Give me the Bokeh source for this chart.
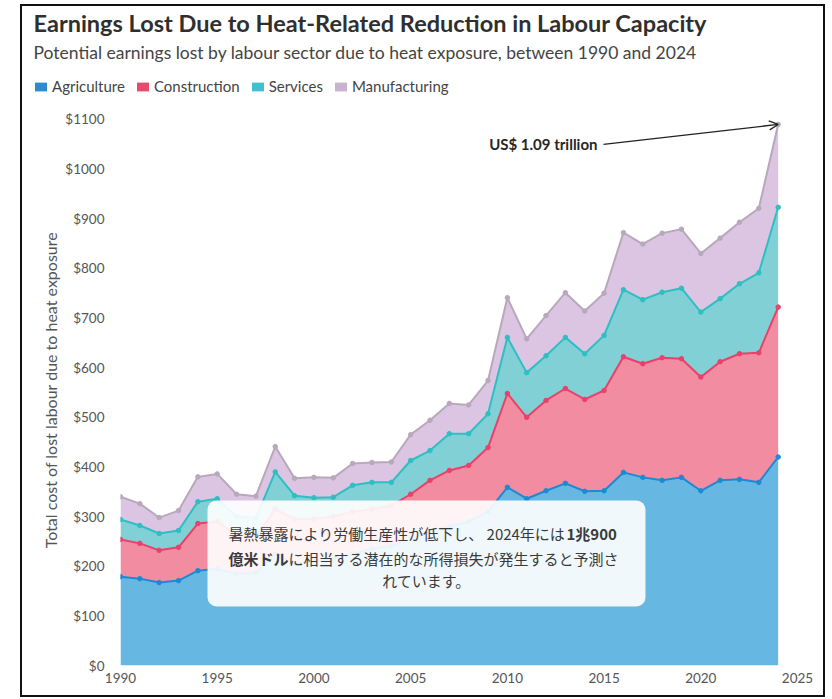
import numpy as np
from bokeh.plotting import figure
from bokeh.layouts import column
from bokeh.models import (ColumnDataSource, Range1d, Label, BoxAnnotation, Arrow, OpenHead,
                          Legend, LegendItem, FixedTicker, PrintfTickFormatter)
from bokeh.embed import file_html
from bokeh.resources import INLINE

# ---------------- data (US$ billion) ----------------
years = list(range(1990, 2025))
agriculture = [179, 175, 167, 171, 191, 195, 185, 187, 225, 205, 210, 215, 225, 235, 240, 255, 270, 280,
               290, 310, 359, 336, 352, 367, 351, 352, 389, 379, 373, 379, 352, 373, 375, 369, 420]
construction = [75, 71, 65, 67, 95, 95, 77, 73, 90, 90, 85, 85, 85, 80, 82, 90, 103, 113,
                113, 129, 189, 164, 182, 191, 185, 202, 233, 229, 247, 239, 229, 239, 253, 261, 302]
services = [40, 36, 34, 34, 44, 46, 38, 37, 75, 47, 43, 39, 53, 54, 47, 68, 60, 74,
            64, 68, 113, 90, 90, 103, 92, 111, 135, 129, 132, 142, 131, 127, 141, 161, 201]
manufacturing = [46, 44, 32, 40, 50, 50, 45, 44, 51, 35, 41, 39, 44, 40, 41, 52, 61, 61,
                 58, 67, 80, 68, 81, 90, 86, 85, 115, 112, 119, 119, 118, 122, 124, 130, 167]
sectors = ["Agriculture", "Construction", "Services", "Manufacturing"]
x_ticks = [1990, 1995, 2000, 2005, 2010, 2015, 2020, 2025]
y_ticks = [0, 100, 200, 300, 400, 500, 600, 700, 800, 900, 1000, 1100]

title_text = "Earnings Lost Due to Heat-Related Reduction in Labour Capacity"
subtitle_text = "Potential earnings lost by labour sector due to heat exposure, between 1990 and 2024"
y_label = "Total cost of lost labour due to heat exposure"
callout_text = "US$ 1.09 trillion"
note_line1a = "暑熱暴露により労働生産性が低下し、 2024年には"
note_line1b = "1兆900"
note_line2a = "億米ドル"
note_line2b = "に相当する潜在的な所得損失が発生すると予測さ"
note_line3 = "れています。"

# ---------------- styles ----------------
fill_colors = ["#66b7e1", "#f28ca1", "#80d0d6", "#dcc5e2"]
line_colors = ["#1c8ad3", "#e9416a", "#2dbfc2", "#b7a9bb"]
legend_colors = ["#2a8bd3", "#e84a6e", "#3fbfcf", "#c8b3cd"]
FONT = "Lato"
CJK = "Noto Sans CJK JP"

# page geometry: block placed at (22, 6), 801 x 689; header 94 px tall
OX, OY, W = 22, 6, 801
HH = 94
HB = OY + HH            # header bottom (page y)
FL, FB = 120, 665       # main plot frame left / bottom (page px)

src = ColumnDataSource(dict(year=years, Agriculture=agriculture, Construction=construction,
                            Services=services, Manufacturing=manufacturing))

# ---------------- header: title, subtitle, legend ----------------
hdr = figure(width=W, height=HH, output_backend="svg", toolbar_location=None,
             x_range=Range1d(0, 1), y_range=Range1d(0, 1), x_axis_type=None, y_axis_type=None,
             min_border_left=0, min_border_right=0, min_border_top=0, min_border_bottom=0)
hdr.outline_line_color = None
hdr.grid.visible = False
hdr.background_fill_color = "white"
hdr.border_fill_color = "white"
hdr.add_layout(Label(x=33 - OX, y=HB - 22, x_units="screen", y_units="screen", text=title_text,
                     text_font=FONT, text_font_size="23.5px", text_font_style="bold",
                     text_color="#2f2f2f", text_baseline="middle"))
hdr.add_layout(Label(x=33 - OX, y=HB - 52, x_units="screen", y_units="screen", text=subtitle_text,
                     text_font=FONT, text_font_size="17.5px", text_color="#444444",
                     text_baseline="middle"))
# legend swatches: the same stacked series, kept outside this header's (empty) ranges
key = hdr.varea_stack(stackers=sectors, x="year", color=legend_colors, source=src)
hdr.add_layout(Legend(items=[LegendItem(label=n, renderers=[r]) for n, r in zip(sectors, key)],
                      orientation="horizontal", location=(33 - OX, HB - 95),
                      glyph_width=15, glyph_height=11, label_standoff=4, spacing=10, padding=0,
                      margin=0, border_line_alpha=0, background_fill_alpha=0,
                      label_text_font=FONT, label_text_font_size="15px",
                      label_text_color="#444444"), "center")

# ---------------- main chart ----------------
MH = 689 - HH
p = figure(width=W, height=MH, output_backend="svg", toolbar_location=None,
           x_range=Range1d(1990, 2025), y_range=Range1d(0, 1110),
           min_border_left=FL - OX, min_border_right=OX + W - 797,
           min_border_top=114 - HB, min_border_bottom=HB + MH - FB)
p.background_fill_color = "white"
p.border_fill_color = "white"
p.outline_line_color = None
p.grid.visible = False

for fig in (hdr, p):
    if "frame_align" in fig.properties():
        fig.frame_align = False

p.varea_stack(stackers=sectors, x="year", color=fill_colors, source=src, fill_alpha=1.0)

cum = np.cumsum(np.array([agriculture, construction, services, manufacturing]), axis=0)
for i in range(4):
    p.line(years, cum[i], line_color=line_colors[i], line_width=2)
    p.scatter(years, cum[i], size=4.5, color=line_colors[i])

# axes
p.xaxis.ticker = FixedTicker(ticks=x_ticks)
p.yaxis.ticker = FixedTicker(ticks=y_ticks)
p.yaxis.formatter = PrintfTickFormatter(format="$%d")
for ax in (p.xaxis, p.yaxis):
    ax.axis_line_color = None
    ax.major_tick_line_color = None
    ax.minor_tick_line_color = None
    ax.major_label_text_font = FONT
    ax.major_label_text_font_size = "13.5px"
    ax.major_label_text_color = "#555555"
p.xaxis.major_label_standoff = 1
p.yaxis.major_label_standoff = 10
p.yaxis.axis_label = y_label
p.yaxis.axis_label_text_font = FONT
p.yaxis.axis_label_text_font_size = "16px"
p.yaxis.axis_label_text_font_style = "normal"
p.yaxis.axis_label_text_color = "#555555"
p.yaxis.axis_label_standoff = 2

# callout arrow to the 2024 total
tx, ty = 2014.97, 1050
p.add_layout(Arrow(end=OpenHead(size=9, line_color="#222222", line_width=1.3),
                   x_start=tx, y_start=ty, x_end=years[-1], y_end=float(cum[-1][-1]),
                   line_color="#222222", line_width=1.3))
p.add_layout(Label(x=tx, y=ty, x_offset=-6, text=callout_text, text_font=FONT,
                   text_font_size="15px", text_font_style="bold", text_color="#262626",
                   text_align="right", text_baseline="middle"))

# note box
p.add_layout(BoxAnnotation(left=207 - FL, right=645 - FL, top=FB - 500, bottom=FB - 606,
                           left_units="screen", right_units="screen", top_units="screen",
                           bottom_units="screen", fill_color="white", fill_alpha=0.9,
                           line_alpha=0, border_radius=9))
def note(x, y, text, bold=False, align="left"):
    p.add_layout(Label(x=x - FL, y=FB - y, x_units="screen", y_units="screen", text=text,
                       text_font=CJK, text_font_size="15px",
                       text_font_style="bold" if bold else "normal",
                       text_color="#3a3a3a", text_align=align, text_baseline="middle"))
note(228, 533, note_line1a)
note(566, 533, note_line1b, bold=True)
note(228, 558, note_line2a, bold=True)
note(288, 558, note_line2b)
note(426, 580, note_line3, align="center")

page = column(hdr, p, spacing=0)
page.margin = (OY, 0, 0, OX)
page.styles = {"outline": "2.5px solid #111111"}

open("out.html", "w").write(file_html(page, INLINE, title="Earnings Lost"))
